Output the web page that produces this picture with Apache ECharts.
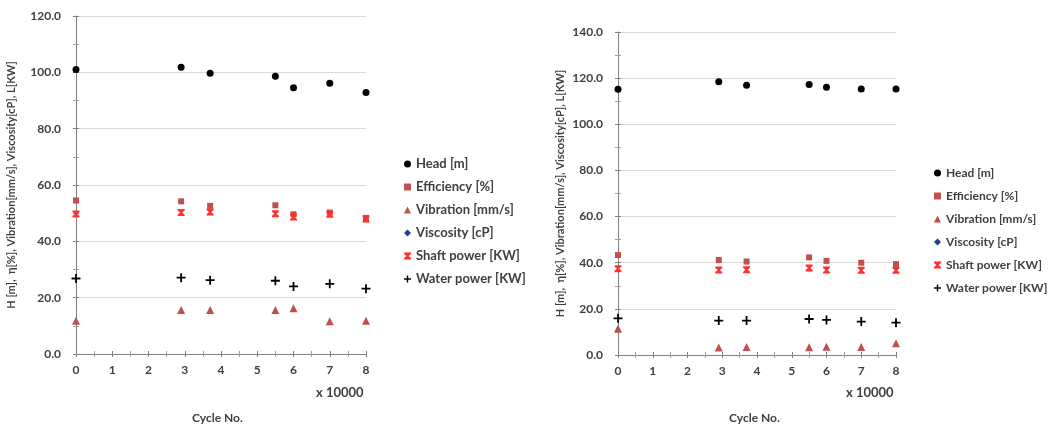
<!DOCTYPE html>
<html><head><meta charset="utf-8">
<script src="https://cdn.jsdelivr.net/npm/echarts@6/dist/echarts.min.js"></script>
<style>html,body{margin:0;padding:0;background:#fff}#c{width:1054px;height:427px}</style>
</head><body><div id="c"></div>
<script>
// ---- data ----
const cycles = [0, 2.9, 3.7, 5.5, 6, 7, 8];           // x 10000
const seriesNames = ['Head [m]', 'Efficiency [%]', 'Vibration [mm/s]', 'Viscosity [cP]', 'Shaft power [KW]', 'Water power [KW]'];
// left chart
const headA  = [101.0, 101.8, 99.7, 98.6, 94.5, 96.1, 92.8];
const effA   = [54.5, 54.2, 52.6, 52.8, 49.6, 50.2, 48.3];
const vibA   = [11.8, 15.6, 15.6, 15.6, 16.2, 11.6, 11.8];
const viscA  = [];
const shaftA = [49.7, 50.2, 50.4, 49.8, 48.6, 49.6, 47.9];
const waterA = [26.8, 27.1, 26.2, 26.0, 24.0, 24.9, 23.2];
// right chart
const headB  = [115.2, 118.4, 116.9, 117.2, 116.0, 115.3, 115.3];
const effB   = [43.3, 41.2, 40.5, 42.3, 40.8, 40.0, 39.4];
const vibB   = [11.5, 3.3, 3.5, 3.4, 3.6, 3.5, 5.1];
const viscB  = [];
const shaftB = [37.4, 36.8, 36.9, 37.7, 36.8, 36.7, 36.7];
const waterB = [15.9, 14.9, 14.9, 15.6, 15.2, 14.5, 14.0];
const yNameText = 'H [m],  η[%], Vibration[mm/s], Viscosity[cP], L[KW]';
const xNameText = 'Cycle No.';
const xUnitText = 'x 10000';

// ---- styles ----
const FONT = 'Lato';
const TXT = '#404040';
const styles = [
  {symbol: 'circle', size: 7, color: '#000000'},
  {symbol: 'rect', size: 6, color: '#c0504d'},
  {symbol: 'triangle', size: 8, color: '#c0504d'},
  {symbol: 'diamond', size: 7, color: '#1f3f8f'},
  {symbol: 'path://M0,0L10,0L10,2L6.6,5L10,8L10,10L0,10L0,8L3.4,5L0,2Z', size: 7, color: '#ff3030'},
  {symbol: 'path://M4,0H6V4H10V6H6V10H4V6H0V4H4Z', size: 9, color: '#000000'}
];
const dataA = [headA, effA, vibA, viscA, shaftA, waterA];
const dataB = [headB, effB, vibB, viscB, shaftB, waterB];

function pairs(arr) { return arr.map((v, i) => [cycles[i], v]); }

const grids = [
  {left: 76, top: 16, width: 290, height: 338},
  {left: 618, top: 32, width: 278, height: 323}
];
const yMax = [120, 140];
const nameGaps = [59, 52];

const xAxes = [], yAxes = [];
grids.forEach((g, gi) => {
  xAxes.push({
    type: 'value', gridIndex: gi, min: 0, max: 8, interval: 1,
    axisLine: {show: true, lineStyle: {color: '#808080', width: 1}},
    axisTick: {show: true, length: 3, lineStyle: {color: '#808080'}},
    minorTick: {show: true, splitNumber: 2, length: 3, lineStyle: {color: '#a0a0a0'}},
    axisLabel: {color: TXT, fontFamily: FONT, fontWeight: 'bold', fontSize: 12, margin: 10},
    splitLine: {show: false}
  });
  xAxes.push({
    type: 'value', gridIndex: gi, min: 0, max: 8, interval: 1, position: 'bottom',
    axisLine: {show: false},
    axisTick: {show: true, inside: true, length: 3, lineStyle: {color: '#808080'}},
    minorTick: {show: true, splitNumber: 2, length: 3, lineStyle: {color: '#a0a0a0'}},
    axisLabel: {show: false}, splitLine: {show: false}
  });
  yAxes.push({
    type: 'value', gridIndex: gi, min: 0, max: yMax[gi], interval: 20,
    name: yNameText, nameLocation: 'middle', nameGap: nameGaps[gi], nameRotate: 90,
    nameTextStyle: {color: TXT, fontFamily: FONT, fontWeight: 'bold', fontSize: 11},
    axisLine: {show: true, lineStyle: {color: '#808080', width: 1}},
    axisTick: {show: true, length: 3, lineStyle: {color: '#808080'}},
    minorTick: {show: true, splitNumber: 2, length: 3, lineStyle: {color: '#a0a0a0'}},
    axisLabel: {color: TXT, fontFamily: FONT, fontWeight: 'bold', fontSize: 12, margin: 15,
      formatter: v => v.toFixed(1)},
    splitLine: {show: true, lineStyle: {color: '#d9d9d9', width: 1}}
  });
  yAxes.push({
    type: 'value', gridIndex: gi, min: 0, max: yMax[gi], interval: 20, position: 'left',
    axisLine: {show: false},
    axisTick: {show: true, inside: true, length: 3, lineStyle: {color: '#808080'}},
    minorTick: {show: true, splitNumber: 2, length: 3, lineStyle: {color: '#a0a0a0'}},
    axisLabel: {show: false}, splitLine: {show: false}
  });
});

const series = [];
[dataA, dataB].forEach((set, gi) => {
  set.forEach((arr, si) => {
    const st = styles[si];
    series.push({
      name: seriesNames[si], type: 'scatter',
      xAxisIndex: gi * 2, yAxisIndex: gi * 2,
      symbol: st.symbol, symbolSize: st.size,
      itemStyle: {color: st.color, opacity: 1},
      data: pairs(arr), z: 5 + si
    });
  });
});

const legendTextA = {color: TXT, fontFamily: FONT, fontWeight: 'bold', fontSize: 13, lineHeight: 14};
const legendTextB = {color: TXT, fontFamily: FONT, fontWeight: 'bold', fontSize: 12, lineHeight: 14};
const option = {
  animation: false,
  backgroundColor: '#ffffff',
  grid: grids,
  xAxis: xAxes,
  yAxis: yAxes,
  legend: [
    {orient: 'vertical', left: 399, top: 152, itemWidth: 7, itemHeight: 7, itemGap: 9,
     selectedMode: false, textStyle: legendTextA, data: seriesNames},
    {orient: 'vertical', left: 929, top: 161, itemWidth: 7, itemHeight: 7, itemGap: 9,
     selectedMode: false, textStyle: legendTextB, data: seriesNames}
  ],
  graphic: [
    {type: 'text', left: 316, top: 386, style: {text: xUnitText, fill: TXT, font: 'bold 13px Lato'}},
    {type: 'text', left: 846, top: 386, style: {text: xUnitText, fill: TXT, font: 'bold 13px Lato'}},
    {type: 'text', left: 192, top: 412, style: {text: xNameText, fill: TXT, font: 'bold 12px Lato'}},
    {type: 'text', left: 729, top: 412, style: {text: xNameText, fill: TXT, font: 'bold 12px Lato'}}
  ],
  series: series
};
const chart = echarts.init(document.getElementById('c'), null, {renderer: 'canvas'});
chart.setOption(option);
</script></body></html>
